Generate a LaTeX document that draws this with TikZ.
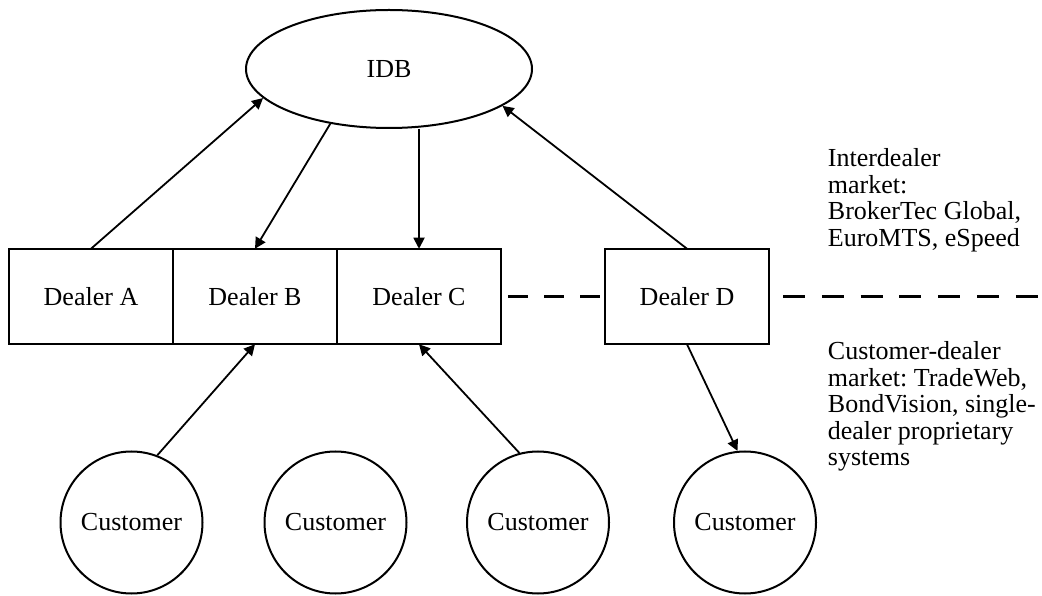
\documentclass[tikz,border=0pt]{standalone}
\usepackage{fontspec}
\setmainfont{Liberation Serif}
\usetikzlibrary{shapes.geometric, arrows.meta, positioning}
\frenchspacing

\begin{document}
\begin{tikzpicture}[
    x=1pt, y=1pt,
    font=\fontsize{26}{26.5}\selectfont,
    hub/.style={ellipse, draw, line width=2pt, minimum width=286pt, minimum height=118pt, inner sep=0pt},
    dealer/.style={rectangle, draw, line width=2pt, minimum width=164pt, minimum height=95.5pt, outer sep=0pt},
    cust/.style={circle, draw, line width=2pt, minimum size=142pt, inner sep=0pt},
    note/.style={align=left, inner sep=0pt, anchor=north west},
    split/.style={line width=2.4pt},
    >={Triangle[length=11pt, width=11pt]}, line width=1.8pt
]
    \useasboundingbox (0,0) rectangle (1042,595);

    \node[hub] (idb) at (389,526) {IDB};

    % dealers
    \node[dealer] (dA) at (91,298.5) {Dealer A};
    \node[dealer, right=0pt of dA] (dB) {Dealer B};
    \node[dealer, right=0pt of dB] (dC) {Dealer C};
    \node[dealer] (dD) at (687,298.5) {Dealer D};

    % customers
    \node[cust] (c1) at (131.5,72.5) {Customer};
    \node[cust] (c2) at (335.5,72.5) {Customer};
    \node[cust] (c3) at (538,72.5) {Customer};
    \node[cust] (c4) at (745,72.5) {Customer};

    % market labels
    \node[note] (inter) at (827,447) {Interdealer\\market:\\BrokerTec Global,\\EuroMTS, eSpeed};
    \node[note] (cdm) at (827,254) {Customer-dealer\\market: TradeWeb,\\BondVision, single-\\dealer proprietary\\systems};
    \coordinate (rim) at (1040,298.5);

    % edges
    \draw[->] (dA.north) -- (idb.193);
    \draw[->] (idb.223) -- (dB.north);
    \draw[->] (idb.south -| dC.north) -- (dC.north);
    \draw[->] (dD.north) -- (idb.342);
    \draw[->] (c1.69) -- (dB.south);
    \draw[->] (c3.105) -- (dC.south);
    \draw[->] (dD.south) -- (c4.96);

    % market split
    \draw[split, dash pattern=on 20pt off 16pt, shorten <=7pt, shorten >=5pt] (dC.east) -- (dD.west);
    \draw[split, dash pattern=on 22pt off 16.8pt, shorten <=14pt] (dD.east) -- (rim);
\end{tikzpicture}
\end{document}
